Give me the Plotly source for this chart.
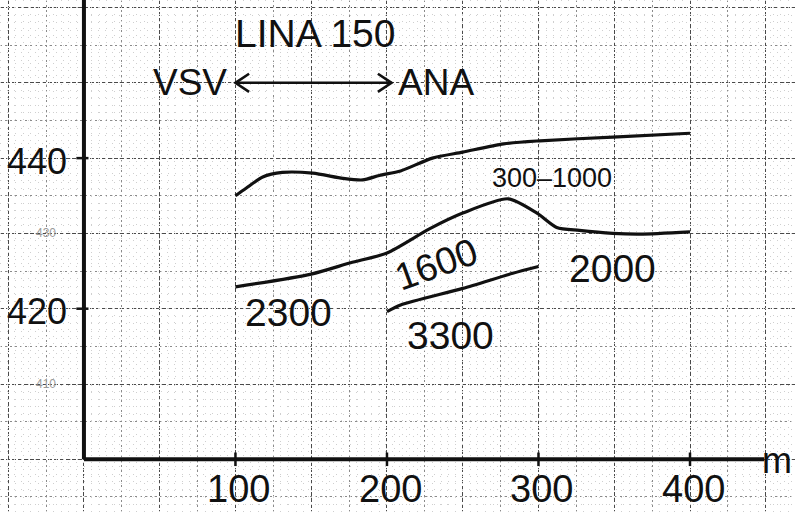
import plotly.graph_objects as go

# ---- data ----
top_x = [100, 107, 118, 131, 151, 171, 184, 195, 209, 230, 250, 277, 301, 349, 400]
top_y = [435.0, 436.0, 437.5, 438.1, 438.0, 437.3, 437.1, 437.7, 438.3, 440.0, 440.8, 441.9, 442.3, 442.8, 443.3]

mid_x = [100, 150, 176, 200, 228, 250, 280, 299, 312, 327, 349, 367, 400]
mid_y = [422.9, 424.6, 426.1, 427.4, 430.6, 432.7, 434.6, 432.7, 430.8, 430.4, 430.0, 429.9, 430.2]

low_x = [200, 209, 250, 283, 300]
low_y = [419.6, 420.5, 422.7, 424.7, 425.6]

x_ticks = [100, 200, 300, 400]
x_tick_labels = ["100", "200", "300", "400"]
y_ticks = [440, 420]
y_tick_labels = ["440", "420"]
y_faint = [430, 410]
y_faint_labels = ["430", "410"]

arrow_span = [100, 203]
arrow_level = 450

curve_labels = ["300–1000", "2300", "1600", "2000", "3300"]
curve_label_x = [309, 134.7, 233, 349, 241.6]
curve_label_y = [437.3, 419.5, 425.9, 425.4, 416.4]

X_RANGE = [-55.4, 469.3]
Y_RANGE = [393.0, 461.0]
INK = "#111111"
FONT = "Liberation Sans, Arial, sans-serif"

fig = go.Figure()

# fine millimetre grid on overlay axes
fig.add_trace(go.Scatter(x=[X_RANGE[0]], y=[Y_RANGE[0]], xaxis="x2", yaxis="y2",
                         mode="markers", marker=dict(opacity=0), showlegend=False,
                         hoverinfo="skip"))

line_style = dict(color=INK, width=3.2, shape="spline", smoothing=0.7)
fig.add_trace(go.Scatter(x=top_x, y=top_y, mode="lines", line=line_style, showlegend=False))
fig.add_trace(go.Scatter(x=mid_x, y=mid_y, mode="lines", line=line_style, showlegend=False))
fig.add_trace(go.Scatter(x=low_x, y=low_y, mode="lines", line=line_style, showlegend=False))

# double-headed arrow VSV <-> ANA
hx, hy = 9.0, 1.2
ax0, ax1 = arrow_span
fig.add_trace(go.Scatter(
    x=[ax0, ax1, None, ax0 + hx, ax0, ax0 + hx, None, ax1 - hx, ax1, ax1 - hx],
    y=[arrow_level, arrow_level, None, arrow_level + hy, arrow_level, arrow_level - hy,
       None, arrow_level + hy, arrow_level, arrow_level - hy],
    mode="lines", line=dict(color=INK, width=2.6), showlegend=False))

shapes = [
    dict(type="line", xref="x", yref="y", x0=0, x1=449, y0=400, y1=400,
         line=dict(color=INK, width=4)),
    dict(type="line", xref="x", yref="y", x0=0, x1=0, y0=400, y1=Y_RANGE[1],
         line=dict(color=INK, width=4)),
]
for t in x_ticks:
    shapes.append(dict(type="line", xref="x", yref="y", x0=t, x1=t, y0=399.1, y1=400.9,
                       line=dict(color=INK, width=2.5)))
for t in y_ticks:
    shapes.append(dict(type="line", xref="x", yref="y", x0=-5, x1=3, y0=t, y1=t,
                       line=dict(color=INK, width=2.5)))

ann = []
def txt(s, x, y, size, angle=0, color=INK, yanchor="middle"):
    ann.append(dict(text=s, x=x, y=y, xref="x", yref="y", showarrow=False,
                    xanchor="center", yanchor=yanchor, textangle=angle,
                    font=dict(family=FONT, size=size, color=color)))

txt("LINA 150", 152.5, 456.6, 39)
txt("VSV", 70, 450.1, 37)
txt("ANA", 232.3, 450.0, 37)
for t, lab in zip(y_ticks, y_tick_labels):
    txt(lab, -31, t - 0.4, 36)
for t, lab in zip(y_faint, y_faint_labels):
    txt(lab, -25, t, 12, color="#9a9a9a")
for t, lab in zip(x_ticks, x_tick_labels):
    txt(lab, t + 2, Y_RANGE[0] + 0.05, 38, yanchor="bottom")
txt("m", 457.5, 399.9, 36)
for s, x, y in zip(curve_labels, curve_label_x, curve_label_y):
    if s == "300–1000":
        txt(s, x, y, 27)
    elif s == "1600":
        txt(s, x, y, 38, angle=-20)
    else:
        txt(s, x, y, 39)

fig.update_layout(
    width=795, height=512,
    margin=dict(l=0, r=0, t=0, b=0),
    paper_bgcolor="white", plot_bgcolor="white",
    showlegend=False,
    shapes=shapes, annotations=ann,
    xaxis=dict(range=X_RANGE, showticklabels=False, zeroline=False, ticks="",
               showgrid=True, dtick=50, tick0=0, gridcolor="#4a4a4a", gridwidth=1.3,
               griddash="4px,2px",
               minor=dict(dtick=25, tick0=0, showgrid=True, gridcolor="#8a8a8a",
                          gridwidth=1, griddash="2px,3px")),
    yaxis=dict(range=Y_RANGE, showticklabels=False, zeroline=False, ticks="",
               showgrid=True, dtick=10, tick0=0, gridcolor="#4a4a4a", gridwidth=1.3,
               griddash="4px,2px",
               minor=dict(dtick=5, tick0=0, showgrid=True, gridcolor="#8a8a8a",
                          gridwidth=1, griddash="2px,3px")),
    xaxis2=dict(range=X_RANGE, overlaying="x", showticklabels=False, zeroline=False,
                ticks="", showgrid=True, dtick=5, tick0=0, gridcolor="#cfcfcf",
                gridwidth=1, griddash="1px,6px"),
    yaxis2=dict(range=Y_RANGE, overlaying="y", showticklabels=False, zeroline=False,
                ticks="", showgrid=True, dtick=1, tick0=0, gridcolor="#cfcfcf",
                gridwidth=1, griddash="1px,6px"),
)

fig.write_html("out.html", config={"displayModeBar": False},
               post_script="document.body.style.margin='0';document.body.style.overflow='hidden';")
